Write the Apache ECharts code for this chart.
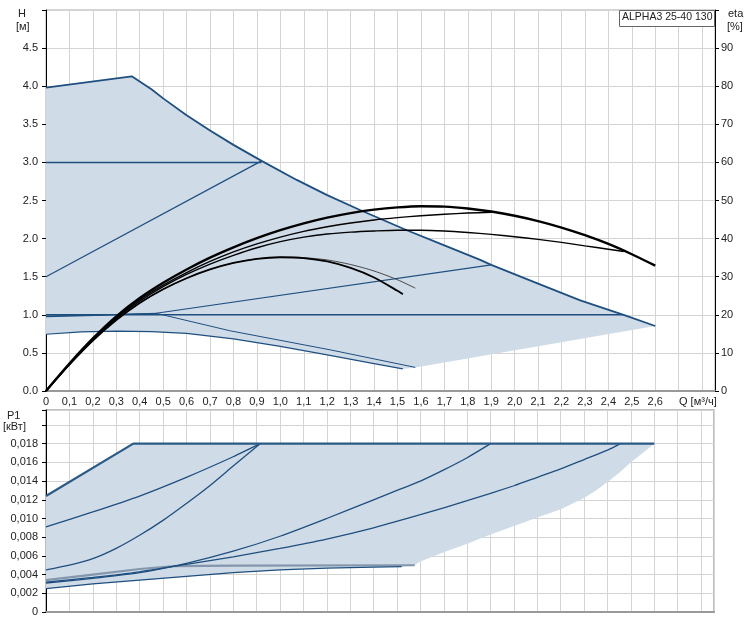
<!DOCTYPE html>
<html><head><meta charset="utf-8">
<script src="https://cdn.jsdelivr.net/npm/echarts/dist/echarts.min.js"></script>
<style>html,body{margin:0;padding:0;background:#fff}#c{width:750px;height:626px}</style>
</head><body><div id="c"></div>
<script>
// ---------- axes ----------
const qMin = 0, qMax = 2.855, qStep = 0.1, qLastLabel = 2.6;
const hMin = 0, hMax = 5, hStep = 0.5, hLastLabel = 4.5;
const etaMin = 0, etaMax = 100, etaStep = 10, etaLastLabel = 90;
const pMin = 0, pMax = 0.0216, pStep = 0.002, pLastLabel = 0.018;

// ---------- top chart: H [m] vs Q [m3/h] ----------
const H_max = [[0,3.98],[0.366,4.13],[0.45,3.96],[0.5,3.84],[0.6,3.62],[0.7,3.42],[0.8,3.23],[0.92,3.02],[1.07,2.77],[1.2,2.57],[1.34,2.375],[1.54,2.11],[1.7,1.91],[1.853,1.72],[1.9,1.655],[2.1,1.41],[2.28,1.19],[2.465,1.0],[2.6,0.853]];
const H_cpMax = [[0,3.0],[0.92,3.0]];
const H_ppMax = [[0,1.5],[0.92,3.02]];
const H_cpMin = [[0,1.0],[2.465,1.0]];
const H_ppMin = [[0,0.975],[0.25,0.995],[0.47,1.02],[1.9,1.655]];
const H_minA = [[0,0.985],[0.25,1.0],[0.47,1.02],[0.786,0.79],[1.213,0.54],[1.576,0.31]];
const H_minB = [[0,0.745],[0.15,0.775],[0.3,0.787],[0.45,0.78],[0.6,0.755],[0.8,0.685],[1.0,0.585],[1.2,0.475],[1.4,0.36],[1.523,0.29]];
const H_shadeEdge = [[2.6,0.853],[1.576,0.31]];

// ---------- efficiency curves: eta [%] ----------
const eta_A = [[0,0],[0.1,7.2],[0.2,13.8],[0.3,19.6],[0.4,24.4],[0.5,28.4],[0.6,31.9],[0.7,35],[0.8,37.7],[0.9,40.1],[1.0,42.2],[1.1,44],[1.2,45.5],[1.3,46.7],[1.4,47.6],[1.5,48.2],[1.6,48.5],[1.7,48.4],[1.8,47.9],[1.9,47.1],[2.0,46],[2.1,44.6],[2.2,42.9],[2.3,40.9],[2.4,38.6],[2.5,35.9],[2.6,32.9]];
const eta_B = [[0,0],[0.1,7.1],[0.2,13.6],[0.3,19.3],[0.4,24],[0.5,27.8],[0.6,31.1],[0.7,34],[0.8,36.5],[0.9,38.6],[1.0,40.4],[1.1,41.9],[1.2,43.1],[1.3,44.1],[1.4,44.9],[1.5,45.5],[1.6,46],[1.7,46.4],[1.8,46.7],[1.9,46.9]];
const eta_C = [[0,0],[0.1,7],[0.2,13.4],[0.3,19],[0.4,23.6],[0.5,27.4],[0.6,30.6],[0.7,33.3],[0.8,35.6],[0.9,37.6],[1.0,39.2],[1.1,40.4],[1.2,41.2],[1.3,41.7],[1.4,42],[1.5,42.2],[1.6,42.2],[1.7,42],[1.8,41.6],[1.9,41.1],[2.0,40.5],[2.1,39.8],[2.2,39],[2.3,38.1],[2.4,37.2],[2.465,36.6]];
const eta_D = [[0,0],[0.1,6.9],[0.2,13.2],[0.3,18.6],[0.4,23.1],[0.5,26.7],[0.6,29.6],[0.7,31.9],[0.8,33.6],[0.9,34.7],[1.0,35.1],[1.1,34.9],[1.2,34],[1.3,32.3],[1.4,29.8],[1.5,26.3],[1.523,25.4]];
const eta_E = [[0,0],[0.1,6.9],[0.2,13.2],[0.3,18.6],[0.4,23.1],[0.5,26.7],[0.6,29.6],[0.7,31.9],[0.8,33.6],[0.9,34.7],[1.0,35.1],[1.1,35],[1.2,34.4],[1.3,33.2],[1.4,31.5],[1.5,29.2],[1.576,27]];

// ---------- bottom chart: P1 [kW] ----------
const P_max = [[0,0.0124],[0.373,0.018],[2.6,0.018]];
const P_b = [[0,0.0091],[0.2,0.0107],[0.4,0.0124],[0.6,0.0144],[0.8,0.0166],[0.915,0.018]];
const P_c = [[0,0.0045],[0.1,0.0050],[0.2,0.0057],[0.3,0.0068],[0.4,0.0082],[0.5,0.0098],[0.6,0.0116],[0.7,0.0135],[0.8,0.0156],[0.915,0.018]];
const P_d = [[0,0.0031],[0.2,0.0036],[0.4,0.0042],[0.6,0.0052],[0.8,0.0065],[1.0,0.0081],[1.2,0.0100],[1.4,0.0120],[1.5,0.0130],[1.6,0.0140],[1.7,0.0152],[1.8,0.0165],[1.9,0.018]];
const P_e = [[0,0.0032],[0.2,0.0037],[0.4,0.0043],[0.6,0.0051],[0.8,0.0059],[1.0,0.0068],[1.2,0.0078],[1.4,0.0090],[1.6,0.0104],[1.8,0.0119],[2.0,0.0135],[2.1,0.0144],[2.2,0.0153],[2.3,0.0163],[2.4,0.0173],[2.455,0.018]];
const P_f = [[0,0.0034],[0.2,0.0040],[0.4,0.0046],[0.55,0.0049],[0.8,0.00495],[1.576,0.005]];
const P_g = [[0,0.0025],[0.2,0.0030],[0.4,0.0034],[0.6,0.0038],[0.8,0.0042],[1.0,0.0045],[1.2,0.0047],[1.4,0.0048],[1.52,0.00485]];
const P_shadeEdge = [[2.6,0.018],[2.55,0.0170],[2.5,0.0160],[2.45,0.0149],[2.4,0.0139],[2.35,0.0130],[2.3,0.0122],[2.2,0.0110],[2.1,0.0101],[2.0,0.0092],[1.9,0.0083],[1.8,0.0073],[1.7,0.0064],[1.6,0.0054],[1.576,0.00503]];

const modelName = 'ALPHA3 25-40 130';

// ---------- styles ----------
const BLUE = '#1f4f7f', SHADE = '#cfdbe7', GRID = '#d4d4d4', FONT = 'Liberation Sans, Arial, sans-serif', TXT = '#222';

const shadeTop = [H_minB[0]].concat(H_max, H_shadeEdge, H_minB.slice().reverse());
const shadeBot = [P_g[0]].concat(P_max, P_shadeEdge.slice(1), P_g.slice().reverse());

function poly(xi, yi, pts) {
  return { type: 'custom', xAxisIndex: xi, yAxisIndex: yi, silent: true, z: 1, clip: true,
    data: [[pts[0][0], pts[0][1]]],
    renderItem: (params, api) => ({ type: 'polygon', shape: { points: pts.map(p => api.coord(p)), smooth: 0 }, style: { fill: SHADE } }) };
}
function line(xi, yi, data, color, width, smooth) {
  return { type: 'line', xAxisIndex: xi, yAxisIndex: yi, data: data, showSymbol: false, silent: true, z: 3,
    smooth: smooth ? 0.25 : false, lineStyle: { color: color, width: width }, animation: false };
}
const qFmt = v => (v > qLastLabel + 1e-6) ? '' : (Math.abs(v) < 1e-9 ? '0' : v.toFixed(1).replace('.', ','));
const lab = { color: TXT, fontSize: 11, fontFamily: FONT };

const chart = echarts.init(document.getElementById('c'), null, { renderer: 'canvas' });
chart.setOption({
  animation: false,
  backgroundColor: '#fff',
  grid: [
    { left: 46, top: 10, width: 669, height: 381, show: true, borderColor: '#a8a8a8', borderWidth: 1 },
    { left: 46, top: 410, width: 668, height: 202, show: true, borderColor: '#a8a8a8', borderWidth: 1.5 }
  ],
  xAxis: [
    { type: 'value', gridIndex: 0, min: qMin, max: qMax, interval: qStep,
      axisLine: { lineStyle: { color: '#999', width: 2 } }, axisTick: { show: false },
      axisLabel: Object.assign({ margin: 5, formatter: qFmt, showMaxLabel: true }, lab),
      splitLine: { lineStyle: { color: GRID, width: 1 } } },
    { type: 'value', gridIndex: 1, min: qMin, max: qMax, interval: qStep,
      axisLine: { lineStyle: { color: '#999', width: 2 } }, axisTick: { show: false }, axisLabel: { show: false },
      splitLine: { lineStyle: { color: GRID, width: 1 } } }
  ],
  yAxis: [
    { type: 'value', gridIndex: 0, min: hMin, max: hMax, interval: hStep, position: 'left',
      axisLine: { show: true, lineStyle: { color: '#000', width: 1 } }, axisTick: { show: true, length: 4, lineStyle: { color: '#000' } },
      axisLabel: Object.assign({ margin: 8, formatter: v => v > hLastLabel + 1e-6 ? '' : v.toFixed(1) }, lab),
      splitLine: { lineStyle: { color: GRID, width: 1 } } },
    { type: 'value', gridIndex: 0, min: etaMin, max: etaMax, interval: etaStep, position: 'right',
      axisLine: { show: true, lineStyle: { color: '#000', width: 1 } }, axisTick: { show: true, length: 4, lineStyle: { color: '#000' } },
      axisLabel: Object.assign({ margin: 6, formatter: v => v > etaLastLabel + 1e-6 ? '' : String(Math.round(v)) }, lab),
      splitLine: { show: false } },
    { type: 'value', gridIndex: 1, min: pMin, max: pMax, interval: pStep, position: 'left',
      axisLine: { show: true, lineStyle: { color: '#000', width: 1 } }, axisTick: { show: true, length: 4, lineStyle: { color: '#000' } },
      axisLabel: Object.assign({ margin: 8, formatter: v => v > pLastLabel + 1e-7 ? '' : (v < 1e-9 ? '0' : v.toFixed(3).replace('.', ',')) }, lab),
      splitLine: { lineStyle: { color: GRID, width: 1 } } }
  ],
  series: [
    poly(0, 0, shadeTop),
    line(0, 0, H_cpMax, BLUE, 1.5),
    line(0, 0, H_ppMax, BLUE, 1.2),
    line(0, 0, H_cpMin, BLUE, 1.5),
    line(0, 0, H_ppMin, BLUE, 1.2),
    line(0, 0, H_minA, BLUE, 1),
    line(0, 0, H_minB, BLUE, 1.2),
    line(0, 0, H_max, BLUE, 1.8),
    line(0, 1, eta_E, '#444', 1, true),
    line(0, 1, eta_D, '#000', 1.8, true),
    line(0, 1, eta_C, '#000', 1.4, true),
    line(0, 1, eta_B, '#000', 1.4, true),
    line(0, 1, eta_A, '#000', 2.4, true),
    poly(1, 2, shadeBot),
    line(1, 2, P_f, '#8396ac', 2.2),
    line(1, 2, P_g, BLUE, 1.3),
    line(1, 2, P_e, BLUE, 1.3, true),
    line(1, 2, P_d, BLUE, 1.3, true),
    line(1, 2, P_c, BLUE, 1.3, true),
    line(1, 2, P_b, BLUE, 1.3, true),
    line(1, 2, P_max, '#2c5a86', 2.2)
  ],
  graphic: [
    { type: 'text', left: 18, top: 8, style: { text: 'H', fill: TXT, font: '11px ' + FONT } },
    { type: 'text', left: 16, top: 21, style: { text: '[м]', fill: TXT, font: '11px ' + FONT } },
    { type: 'text', left: 728, top: 8, style: { text: 'eta', fill: TXT, font: '11px ' + FONT } },
    { type: 'text', left: 727, top: 21, style: { text: '[%]', fill: TXT, font: '11px ' + FONT } },
    { type: 'text', left: 679, top: 396, style: { text: 'Q [м³/ч]', fill: TXT, font: '11px ' + FONT } },
    { type: 'text', left: 7, top: 410, style: { text: 'P1', fill: TXT, font: '11px ' + FONT } },
    { type: 'text', left: 3, top: 421, style: { text: '[кВт]', fill: TXT, font: '11px ' + FONT } },
    { type: 'rect', left: 619, top: 10, shape: { width: 95, height: 16 }, style: { fill: '#fff', stroke: '#666', lineWidth: 1 }, z: 10 },
    { type: 'text', left: 622, top: 12, z: 11, style: { text: modelName, fill: TXT, font: '10.5px ' + FONT } }
  ]
});
</script>
</body></html>
